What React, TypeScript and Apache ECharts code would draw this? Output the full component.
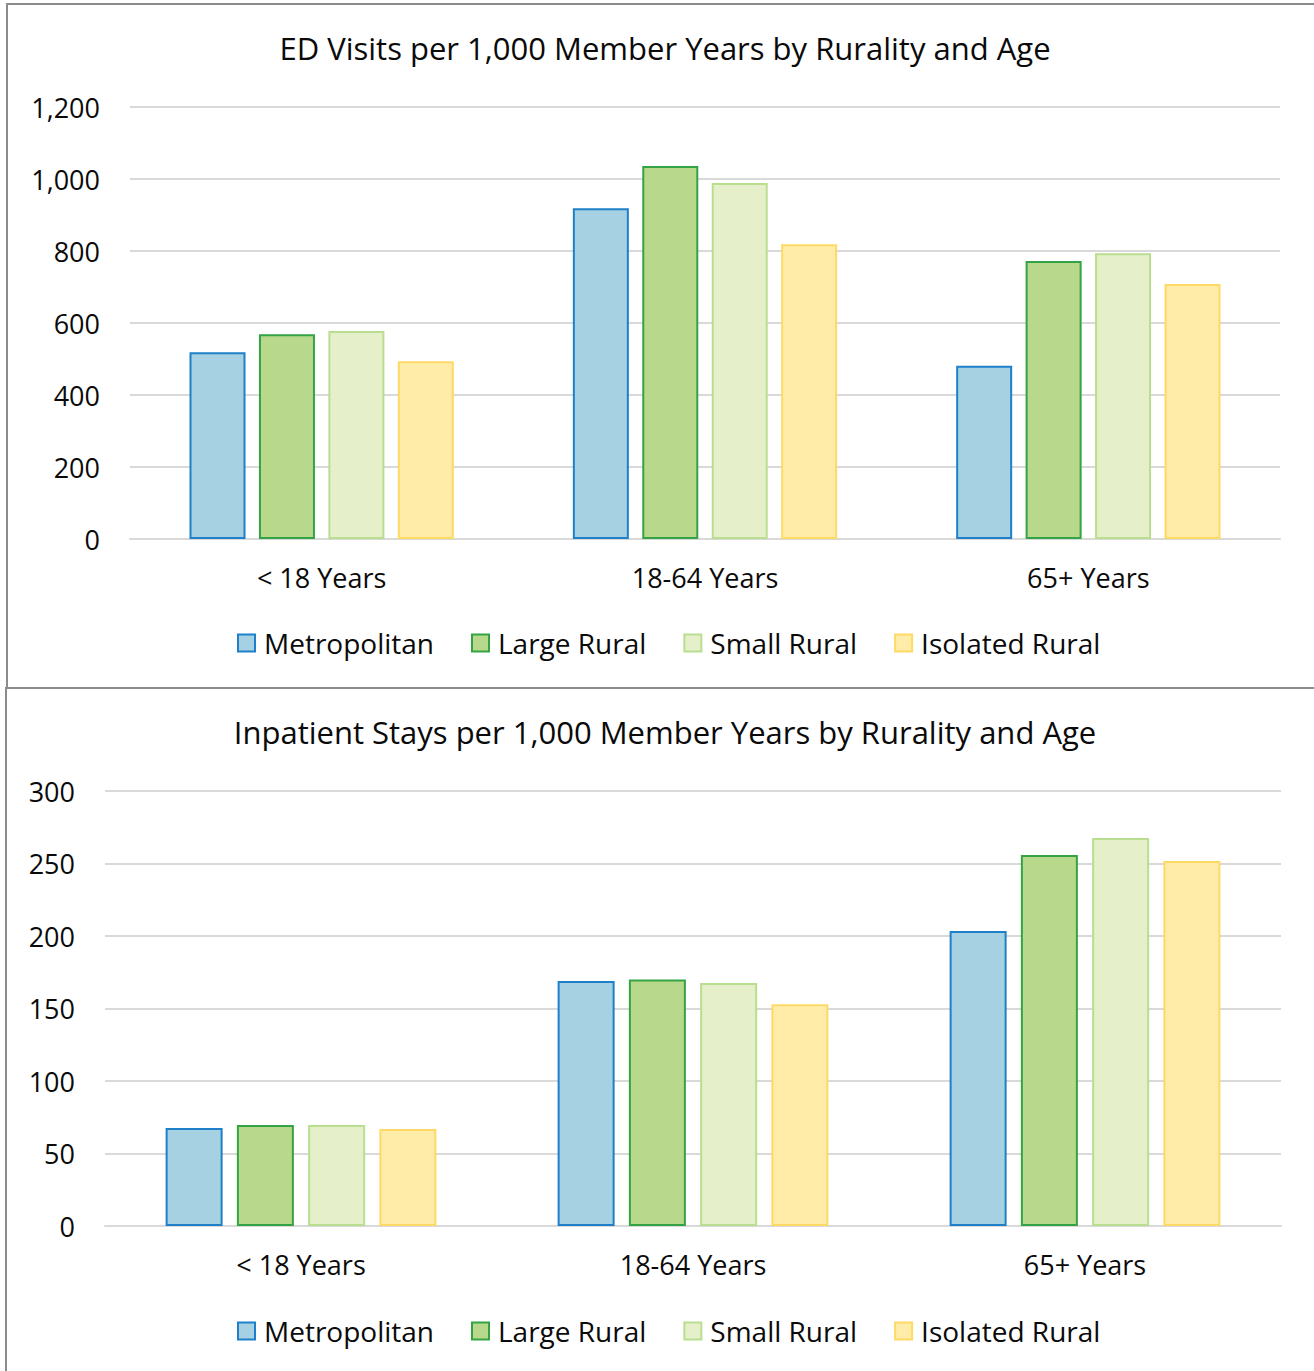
import React, { useEffect, useRef } from "react";
import * as echarts from "echarts";

const categories = ["< 18 Years", "18-64 Years", "65+ Years"];
const seriesNames = ["Metropolitan", "Large Rural", "Small Rural", "Isolated Rural"];

const edMetropolitan = [519, 919, 481];
const edLargeRural = [569, 1036, 772];
const edSmallRural = [578, 989, 794];
const edIsolatedRural = [494, 819, 708];

const ipMetropolitan = [67.6, 169, 203.4];
const ipLargeRural = [69.7, 170, 255.9];
const ipSmallRural = [69.7, 167.6, 267.6];
const ipIsolatedRural = [66.9, 153, 251.7];

const fills = ["#A5D1E3", "#B8D98C", "#E5F0CA", "#FFECA8"];
const borders = ["#1F80C9", "#34A343", "#B9DE90", "#FFD966"];

const FONT = "Open Sans";
const TXT = "#0a0a0a";

export default function App() {
  const ref = useRef<HTMLDivElement>(null);
  useEffect(() => {
    if (!ref.current) return;
    const chart = echarts.init(ref.current, null, { renderer: "svg" });
    const edData = [edMetropolitan, edLargeRural, edSmallRural, edIsolatedRural];
    const ipData = [ipMetropolitan, ipLargeRural, ipSmallRural, ipIsolatedRural];

    const mkSeries = (data: number[][], idx: number, bw: number, gap: string) =>
      data.map((d, i) => ({
        name: seriesNames[i],
        type: "bar",
        xAxisIndex: idx,
        yAxisIndex: idx,
        data: d,
        barWidth: bw,
        barGap: gap,
        itemStyle: { color: fills[i], borderColor: borders[i], borderWidth: 2 },
      }));

    const xAxisBase = (gi: number) => ({
      type: "category",
      gridIndex: gi,
      data: categories,
      axisLine: { show: true, lineStyle: { color: "#D9D9D9", width: 2 } },
      axisTick: { show: false },
      axisLabel: { color: TXT, fontSize: 27, fontFamily: FONT, margin: 25 },
    });
    const yAxisBase = (gi: number, max: number, interval: number) => ({
      type: "value",
      gridIndex: gi,
      min: 0,
      max,
      interval,
      axisLine: { show: false },
      axisTick: { show: false },
      splitLine: { lineStyle: { color: "#D9D9D9", width: 2 } },
      axisLabel: {
        color: TXT,
        fontSize: 27,
        fontFamily: FONT,
        margin: 30,
        formatter: (v: number) => v.toLocaleString("en-US"),
      },
    });
    const legendBase = (top: number) => ({
      top,
      left: 232,
      itemWidth: 17,
      itemHeight: 17,
      itemGap: 37,
      icon: "rect",
      textStyle: { color: TXT, fontSize: 28, fontFamily: FONT, padding: [0, 0, 0, 4] },
      data: seriesNames.map((n, i) => ({
        name: n,
        itemStyle: { color: fills[i], borderColor: borders[i], borderWidth: 2 },
      })),
    });

    chart.setOption({
      animation: false,
      backgroundColor: "#fff",
      title: [
        {
          text: "ED Visits per 1,000 Member Years by Rurality and Age",
          left: 660,
          top: 27,
          textAlign: "center",
          textStyle: { color: TXT, fontSize: 31, fontWeight: "normal", fontFamily: FONT },
        },
        {
          text: "Inpatient Stays per 1,000 Member Years by Rurality and Age",
          left: 660,
          top: 711,
          textAlign: "center",
          textStyle: { color: TXT, fontSize: 31, fontWeight: "normal", fontFamily: FONT },
        },
      ],
      legend: [
        { ...legendBase(624), id: "l0" },
        { ...legendBase(1312), id: "l1" },
      ],
      grid: [
        { left: 130, top: 107, width: 1150, height: 432 },
        { left: 105, top: 791, width: 1176, height: 435 },
      ],
      xAxis: [xAxisBase(0), xAxisBase(1)],
      yAxis: [yAxisBase(0, 1200, 200), yAxisBase(1, 300, 50)],
      series: [...mkSeries(edData, 0, 56, "24%"), ...mkSeries(ipData, 1, 57, "25%")],
      graphic: [
        {
          type: "rect",
          shape: { x: 7, y: 4, width: 1320, height: 684 },
          style: { fill: "none", stroke: "#8C8C8C", lineWidth: 2 },
          silent: true,
        },
        {
          type: "rect",
          shape: { x: 6, y: 688, width: 1320, height: 700 },
          style: { fill: "none", stroke: "#8C8C8C", lineWidth: 2 },
          silent: true,
        },
      ],
    });
    return () => chart.dispose();
  }, []);
  return (
    <div
      ref={ref}
      style={{ position: "absolute", left: 0, top: 0, width: 1314, height: 1371 }}
    />
  );
}
